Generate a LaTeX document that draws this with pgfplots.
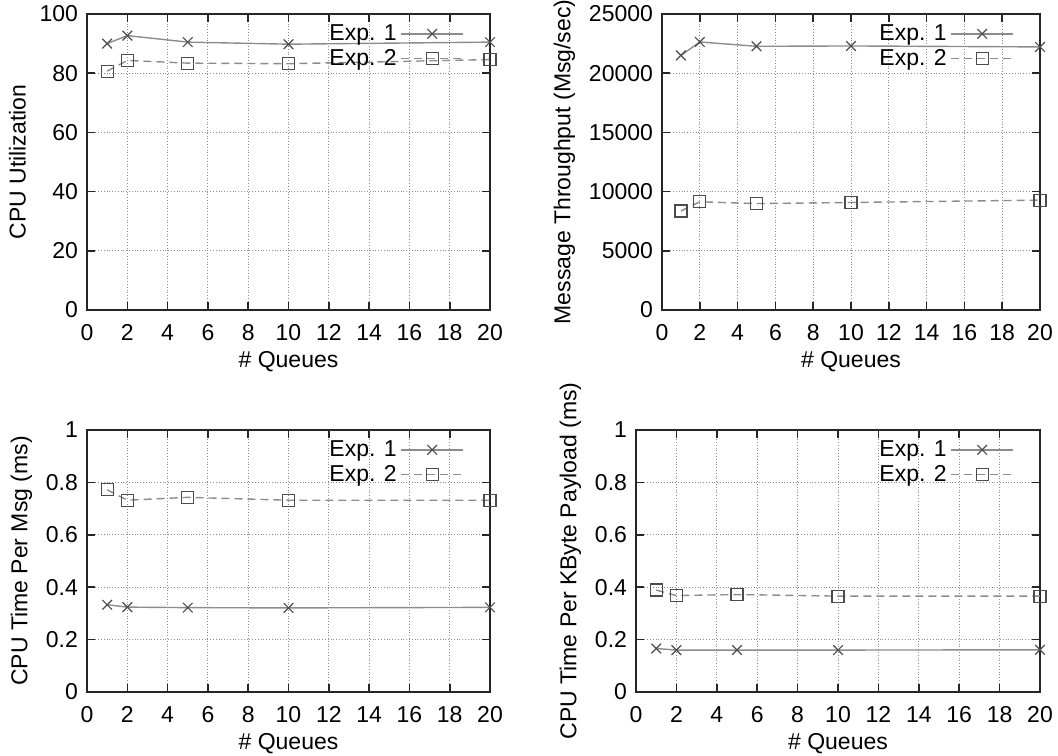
\documentclass[border=0pt]{standalone}
\usepackage{fontspec}
\setmainfont{Liberation Sans}
\usepackage{pgfplots}
\pgfplotsset{compat=1.18}
\definecolor{linegray}{gray}{0.55}
\definecolor{markgray}{gray}{0.3}
\pgfplotsset{
 gp/.style={
  scale only axis,
  xmin=0,xmax=20, xtick={0,2,...,20},
  grid=major, grid style={densely dotted, black!45, line width=0.5pt},
  axis line style={black!85, line width=0.8pt},
  tick style={black!85, line width=0.8pt},
  major tick length=4pt,
  tick align=inside,
  tick pos=both,
  ticklabel style={font=\fontsize{11.5}{13.8}\selectfont},
  xticklabel style={yshift=-3.5pt, text height=8.3pt, text depth=0pt},
  yticklabel style={xshift=-1pt},
  label style={font=\fontsize{11.5}{13.8}\selectfont},
  xlabel style={yshift=1.5pt},
  /pgf/number format/assume math mode=true,
  /pgf/number format/set thousands separator={},
  xlabel={\# Queues},
  legend style={draw=none, fill=none, at={(1,1)}, anchor=north east, xshift=-10pt, yshift=-1pt,
    font=\fontsize{11.5}{13.8}\selectfont, legend cell align=right, row sep=-1pt,
    /tikz/every even column/.append style={column sep=3pt}},
  legend plot pos=right,
  legend image code/.code={\draw[mark repeat=2,mark phase=2,##1] plot coordinates {(0cm,0cm) (0.54cm,0cm) (1.08cm,0cm)};},
 },
 e1/.style={linegray, solid, line width=0.7pt, mark=x, mark size=3.4pt, mark options={markgray, solid, line width=0.6pt}},
 e2/.style={linegray, dash pattern=on 4pt off 2.5pt, line width=0.7pt, mark=square, mark size=3pt, mark options={markgray, solid, line width=0.6pt}},
}
\begin{document}
\begin{tikzpicture}
\path[use as bounding box] (0,0) rectangle (529pt,377.5pt);
% top left
\begin{axis}[gp, at={(43.5pt,222.5pt)}, anchor=south west, width=201.5pt, height=148pt,
  ymin=0, ymax=100, ytick={0,20,...,100}, ylabel={CPU Utilization}]
\addplot[e1] coordinates {(1,90.0) (2,92.7) (5,90.5) (10,89.8) (20,90.5)};
\addlegendentry{Exp. 1}
\addplot[e2] coordinates {(1,80.7) (2,84.3) (5,83.4) (10,83.2) (20,84.6)};
\addlegendentry{Exp. 2}
\end{axis}
% top right
\begin{axis}[gp, at={(331pt,222.5pt)}, anchor=south west, width=189pt, height=148pt,
  ymin=0, ymax=25000, ytick={0,5000,...,25000}, ylabel={Message Throughput (Msg/sec)},
  scaled y ticks=false]
\addplot[e1] coordinates {(1,21500) (2,22640) (5,22270) (10,22300) (20,22220)};
\addlegendentry{Exp. 1}
\addplot[e2] coordinates {(1,8360) (2,9140) (5,8990) (10,9080) (20,9280)};
\addlegendentry{Exp. 2}
\end{axis}
% bottom left
\begin{axis}[gp, at={(43.5pt,31.5pt)}, anchor=south west, width=201.5pt, height=131pt,
  ymin=0, ymax=1, ytick={0,0.2,...,1}, ylabel={CPU Time Per Msg (ms)}]
\addplot[e1] coordinates {(1,0.333) (2,0.324) (5,0.322) (10,0.321) (20,0.323)};
\addlegendentry{Exp. 1}
\addplot[e2] coordinates {(1,0.772) (2,0.732) (5,0.743) (10,0.732) (20,0.732)};
\addlegendentry{Exp. 2}
\end{axis}
% bottom right
\begin{axis}[gp, at={(318pt,31.5pt)}, anchor=south west, width=202pt, height=131pt,
  ymin=0, ymax=1, ytick={0,0.2,...,1}, ylabel={CPU Time Per KByte Payload (ms)}]
\addplot[e1] coordinates {(1,0.166) (2,0.160) (5,0.160) (10,0.160) (20,0.161)};
\addlegendentry{Exp. 1}
\addplot[e2] coordinates {(1,0.389) (2,0.368) (5,0.372) (10,0.366) (20,0.366)};
\addlegendentry{Exp. 2}
\end{axis}
\end{tikzpicture}
\end{document}
